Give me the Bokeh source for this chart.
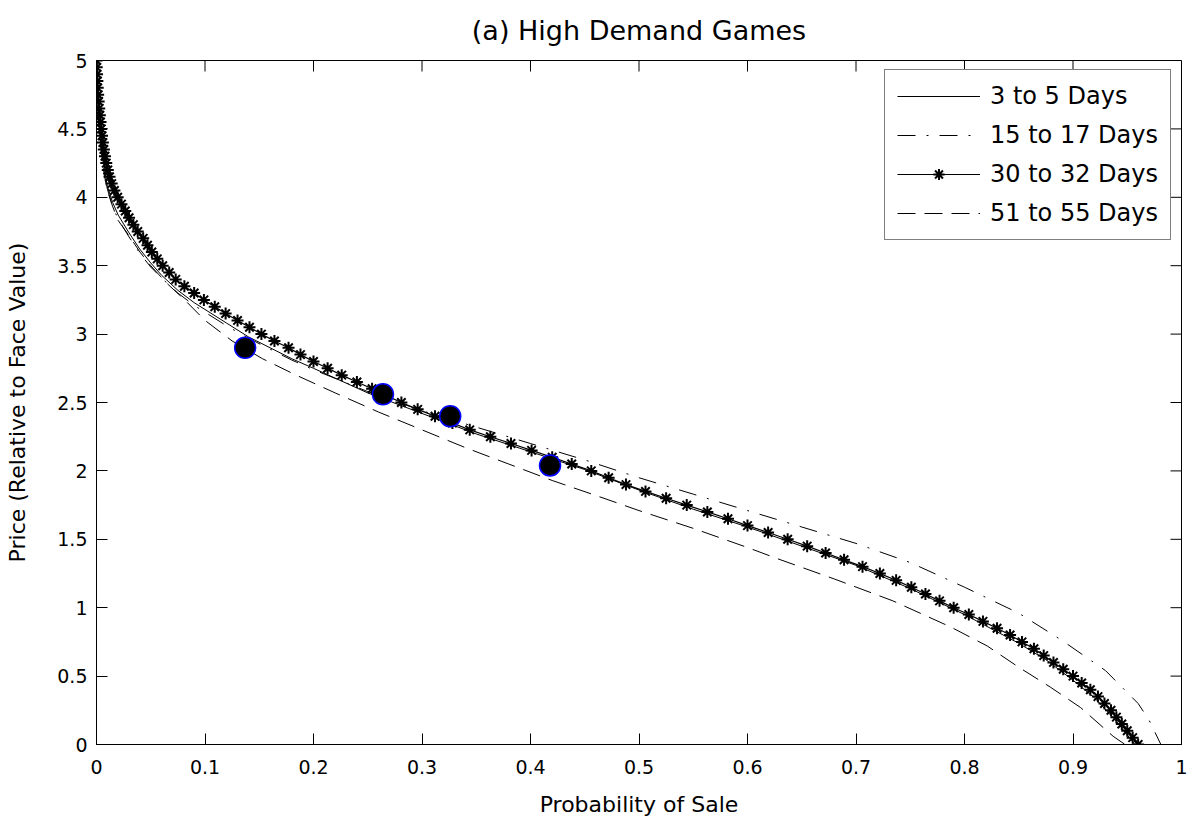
from bokeh.plotting import figure
from bokeh.models import Legend, LegendItem, Range1d, FixedTicker
from bokeh.embed import file_html
from bokeh.resources import INLINE

# ---------------- data ----------------
title_text = "(a) High Demand Games"
x_label = "Probability of Sale"
y_label = "Price (Relative to Face Value)"

x_ticks = [0, 0.1, 0.2, 0.3, 0.4, 0.5, 0.6, 0.7, 0.8, 0.9, 1]
x_tick_labels = ["0", "0.1", "0.2", "0.3", "0.4", "0.5", "0.6", "0.7", "0.8", "0.9", "1"]
y_ticks = [0, 0.5, 1, 1.5, 2, 2.5, 3, 3.5, 4, 4.5, 5]
y_tick_labels = ["0", "0.5", "1", "1.5", "2", "2.5", "3", "3.5", "4", "4.5", "5"]

series_names = ["3 to 5 Days", "15 to 17 Days", "30 to 32 Days", "51 to 55 Days"]

# 3 to 5 Days (solid)
d3_prob = [0.0, 0.001, 0.002, 0.004, 0.007, 0.010, 0.015, 0.020, 0.030, 0.040, 0.050, 0.060,
           0.075, 0.090, 0.100, 0.120, 0.140, 0.160, 0.180, 0.200, 0.250, 0.300, 0.350, 0.400,
           0.450, 0.500, 0.550, 0.600, 0.650, 0.700, 0.750, 0.800, 0.850, 0.875, 0.900, 0.920,
           0.940, 0.957]
d3_price = [5.0, 4.80, 4.62, 4.42, 4.22, 4.08, 3.96, 3.87, 3.74, 3.62, 3.52, 3.43,
            3.32, 3.23, 3.18, 3.08, 2.98, 2.90, 2.82, 2.75, 2.57, 2.42, 2.27, 2.14,
            2.01, 1.86, 1.72, 1.59, 1.45, 1.31, 1.14, 0.95, 0.74, 0.62, 0.47, 0.34,
            0.17, 0.0]

# 15 to 17 Days (dash-dot)
d15_prob = [0.0, 0.001, 0.002, 0.004, 0.007, 0.010, 0.015, 0.020, 0.030, 0.040, 0.050, 0.060,
            0.075, 0.090, 0.100, 0.120, 0.140, 0.160, 0.180, 0.200, 0.250, 0.300, 0.350, 0.400,
            0.450, 0.500, 0.550, 0.600, 0.650, 0.700, 0.750, 0.800, 0.850, 0.890, 0.930, 0.960,
            0.970, 0.981]
d15_price = [5.0, 4.78, 4.60, 4.40, 4.20, 4.06, 3.93, 3.84, 3.71, 3.59, 3.49, 3.41,
             3.30, 3.21, 3.16, 3.06, 2.97, 2.89, 2.81, 2.74, 2.58, 2.44, 2.32, 2.20,
             2.08, 1.95, 1.83, 1.71, 1.59, 1.47, 1.33, 1.15, 0.96, 0.76, 0.54, 0.30,
             0.18, 0.0]

# 30 to 32 Days (solid with asterisks), one point every 0.05 of price
d30_price = [5.00, 4.95, 4.90, 4.85, 4.80, 4.75, 4.70, 4.65, 4.60, 4.55,
             4.50, 4.45, 4.40, 4.35, 4.30, 4.25, 4.20, 4.15, 4.10, 4.05,
             4.00, 3.95, 3.90, 3.85, 3.80, 3.75, 3.70, 3.65, 3.60, 3.55,
             3.50, 3.45, 3.40, 3.35, 3.30, 3.25, 3.20, 3.15, 3.10, 3.05,
             3.00, 2.95, 2.90, 2.85, 2.80, 2.75, 2.70, 2.65, 2.60, 2.55,
             2.50, 2.45, 2.40, 2.35, 2.30, 2.25, 2.20, 2.15, 2.10, 2.05,
             2.00, 1.95, 1.90, 1.85, 1.80, 1.75, 1.70, 1.65, 1.60, 1.55,
             1.50, 1.45, 1.40, 1.35, 1.30, 1.25, 1.20, 1.15, 1.10, 1.05,
             1.00, 0.95, 0.90, 0.85, 0.80, 0.75, 0.70, 0.65, 0.60, 0.55,
             0.50, 0.45, 0.40, 0.35, 0.30, 0.25, 0.20, 0.15, 0.10, 0.05,
             0.00]
d30_prob = [0.0000, 0.0002, 0.0005, 0.0008, 0.0011, 0.0015, 0.0020, 0.0025, 0.0031, 0.0037,
            0.0044, 0.0051, 0.0059, 0.0068, 0.0078, 0.0090, 0.0104, 0.0120, 0.0140, 0.0165,
            0.0195, 0.0230, 0.0265, 0.0300, 0.0340, 0.0380, 0.0430, 0.0470, 0.0510, 0.0560,
            0.0610, 0.0670, 0.0730, 0.0810, 0.0900, 0.0990, 0.1090, 0.1190, 0.1300, 0.1410,
            0.1520, 0.1640, 0.1770, 0.1880, 0.2000, 0.2130, 0.2260, 0.2400, 0.2540, 0.2670,
            0.2810, 0.2960, 0.3120, 0.3280, 0.3440, 0.3630, 0.3820, 0.4010, 0.4200, 0.4380,
            0.4560, 0.4720, 0.4880, 0.5060, 0.5250, 0.5440, 0.5630, 0.5820, 0.6000, 0.6190,
            0.6370, 0.6550, 0.6720, 0.6890, 0.7060, 0.7220, 0.7370, 0.7510, 0.7640, 0.7770,
            0.7900, 0.8040, 0.8170, 0.8300, 0.8420, 0.8530, 0.8640, 0.8730, 0.8820, 0.8910,
            0.9000, 0.9080, 0.9160, 0.9230, 0.9290, 0.9350, 0.9400, 0.9450, 0.9500, 0.9550,
            0.9600]

# 51 to 55 Days (dashed)
d51_prob = [0.0, 0.001, 0.002, 0.004, 0.007, 0.010, 0.015, 0.020, 0.030, 0.040, 0.050, 0.065,
            0.080, 0.100, 0.125, 0.153, 0.184, 0.220, 0.260, 0.300, 0.340, 0.380, 0.420, 0.464,
            0.500, 0.550, 0.600, 0.627, 0.680, 0.734, 0.787, 0.821, 0.849, 0.879, 0.907, 0.937,
            0.948]
d51_price = [5.0, 4.75, 4.57, 4.36, 4.17, 4.05, 3.93, 3.83, 3.72, 3.60, 3.50, 3.37,
             3.26, 3.10, 2.95, 2.82, 2.70, 2.57, 2.43, 2.30, 2.17, 2.05, 1.93, 1.81,
             1.71, 1.58, 1.44, 1.36, 1.21, 1.05, 0.86, 0.72, 0.57, 0.42, 0.27, 0.06,
             0.0]

# observed points (filled circles)
obs_prob = [0.137, 0.264, 0.326, 0.418]
obs_price = [2.90, 2.56, 2.40, 2.04]

# ---------------- figure ----------------
FONT = "DejaVu Sans"
FRAME_W, FRAME_H = 1085, 684
X0, X1, Y0, Y1 = 0, 1, 0, 5
TICK_PX = 11

p = figure(frame_width=FRAME_W, frame_height=FRAME_H,
           min_border_left=96, min_border_right=8, min_border_top=60, min_border_bottom=78,
           x_range=Range1d(X0, X1), y_range=Range1d(Y0, Y1),
           output_backend="svg", toolbar_location=None)

p.background_fill_color = "white"
p.border_fill_color = "white"
p.outline_line_color = "black"
p.outline_line_width = 1
p.grid.visible = False

p.title.text = title_text
p.title.align = "center"
p.title.vertical_align = "top"
p.title.text_font = FONT
p.title.text_font_size = "27px"
p.title.text_font_style = "normal"
p.title.text_color = "black"
p.title.standoff = 26

p.xaxis.ticker = FixedTicker(ticks=x_ticks)
p.yaxis.ticker = FixedTicker(ticks=y_ticks)
p.xaxis.major_label_overrides = dict(zip(x_ticks, x_tick_labels))
p.yaxis.major_label_overrides = dict(zip(y_ticks, y_tick_labels))
for ax in (p.xaxis[0], p.yaxis[0]):
    ax.major_tick_in = TICK_PX
    ax.major_tick_out = 0
    ax.minor_tick_line_color = None
    ax.axis_line_color = "black"
    ax.major_tick_line_color = "black"
    ax.major_label_text_font = FONT
    ax.major_label_text_font_size = "19px"
    ax.major_label_text_color = "black"
    ax.axis_label_text_font = FONT
    ax.axis_label_text_font_size = "22px"
    ax.axis_label_text_font_style = "normal"
    ax.axis_label_text_color = "black"
p.xaxis.axis_label = x_label
p.yaxis.axis_label = y_label
p.xaxis.major_label_standoff = 15
p.yaxis.major_label_standoff = 9
p.xaxis.axis_label_standoff = 15
p.yaxis.axis_label_standoff = 24

# inward ticks on the top and right edges of the box (from the tick arrays)
tick_dy = TICK_PX / FRAME_H * (Y1 - Y0)
tick_dx = TICK_PX / FRAME_W * (X1 - X0)
p.segment(x0=x_ticks, y0=[Y1] * len(x_ticks), x1=x_ticks, y1=[Y1 - tick_dy] * len(x_ticks),
          line_color="black", line_width=1)
p.segment(x0=[X1] * len(y_ticks), y0=y_ticks, x1=[X1 - tick_dx] * len(y_ticks), y1=y_ticks,
          line_color="black", line_width=1)

r3 = p.line(d3_prob, d3_price, line_color="black", line_width=1)
r15 = p.line(d15_prob, d15_price, line_color="black", line_width=1, line_dash="18 11 2 11")
r51 = p.line(d51_prob, d51_price, line_color="black", line_width=1, line_dash="18 9")
r30l = p.line(d30_prob, d30_price, line_color="black", line_width=1.2)
r30s = p.scatter(d30_prob, d30_price, marker="asterisk", size=12, line_color="black", line_width=2)
p.scatter(obs_prob, obs_price, marker="circle", size=21, fill_color="black",
          line_color="blue", line_width=1.5)

legend = Legend(items=[
    LegendItem(label=series_names[0], renderers=[r3]),
    LegendItem(label=series_names[1], renderers=[r15]),
    LegendItem(label=series_names[2], renderers=[r30l, r30s]),
    LegendItem(label=series_names[3], renderers=[r51]),
], location=(788, 504))
legend.label_text_font = FONT
legend.label_text_font_size = "24px"
legend.label_text_color = "black"
legend.glyph_width = 83
legend.glyph_height = 28
legend.spacing = 11
legend.padding = 12
legend.label_standoff = 10
legend.border_line_color = "black"
legend.border_line_width = 1
legend.background_fill_color = "white"
legend.background_fill_alpha = 1
legend.margin = 0
p.add_layout(legend)

open("out.html", "w").write(file_html(p, INLINE))
